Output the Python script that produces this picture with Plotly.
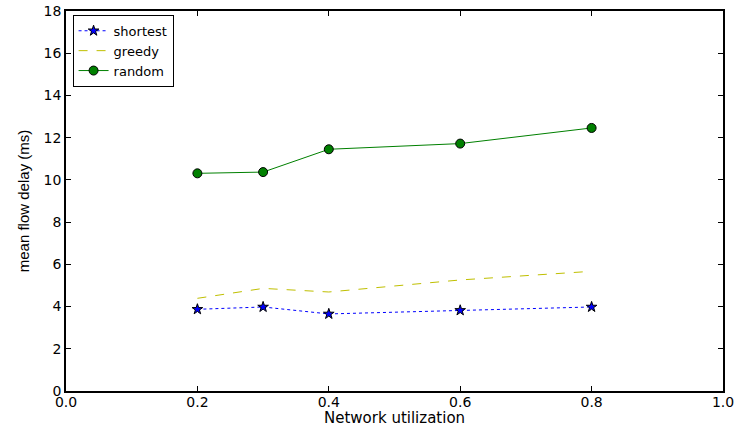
import plotly.graph_objects as go

utilization = [0.2, 0.3, 0.4, 0.6, 0.8]
shortest = [3.87, 3.98, 3.65, 3.82, 3.98]
greedy = [4.39, 4.86, 4.69, 5.26, 5.67]
random_ = [10.31, 10.37, 11.45, 11.72, 12.46]
x_title = "Network utilization"
y_title = "mean flow delay (ms)"

fig = go.Figure()
fig.add_trace(go.Scatter(
    x=utilization, y=shortest, name="shortest", mode="lines+markers",
    line=dict(color="#0000ff", dash="dot", width=1),
    marker=dict(symbol="star", size=8, color="#0000ff", line=dict(color="black", width=1)),
))
fig.add_trace(go.Scatter(
    x=utilization, y=greedy, name="greedy", mode="lines",
    line=dict(color="#bfbf00", dash="dash", width=1),
))
fig.add_trace(go.Scatter(
    x=utilization, y=random_, name="random", mode="lines+markers",
    line=dict(color="#008000", width=1),
    marker=dict(symbol="circle", size=9, color="#008000", line=dict(color="black", width=1)),
))

axis_common = dict(
    showgrid=False, zeroline=False, showline=True, linecolor="black", linewidth=1.5,
    mirror="allticks", ticks="inside", ticklen=5, tickcolor="black",
    tickfont=dict(family="DejaVu Sans", size=14, color="black"), automargin=False,
)
fig.update_xaxes(range=[0, 1], dtick=0.2, tick0=0, tickformat=".1f", ticklabelstandoff=-3, **axis_common)
fig.update_yaxes(range=[0, 18], dtick=2, tick0=0,
                 title=dict(text=y_title, font=dict(family="Liberation Sans", size=15, color="black"), standoff=10),
                 **axis_common)

fig.add_annotation(text=x_title, xref="paper", yref="paper", x=0.5, y=0,
                   xanchor="center", yanchor="middle", yshift=-27, showarrow=False,
                   font=dict(family="DejaVu Sans", size=15, color="black"))

fig.update_layout(
    width=742, height=426,
    margin=dict(l=66, r=19, t=11, b=35),
    plot_bgcolor="white", paper_bgcolor="white",
    font=dict(family="DejaVu Sans", color="black"),
    legend=dict(x=0.01, y=0.99, xanchor="left", yanchor="top",
                bordercolor="black", borderwidth=1, bgcolor="white",
                font=dict(family="DejaVu Sans", size=13, color="black"),
                tracegroupgap=0, itemwidth=30),
    showlegend=True,
)

fig.write_html("out.html")
